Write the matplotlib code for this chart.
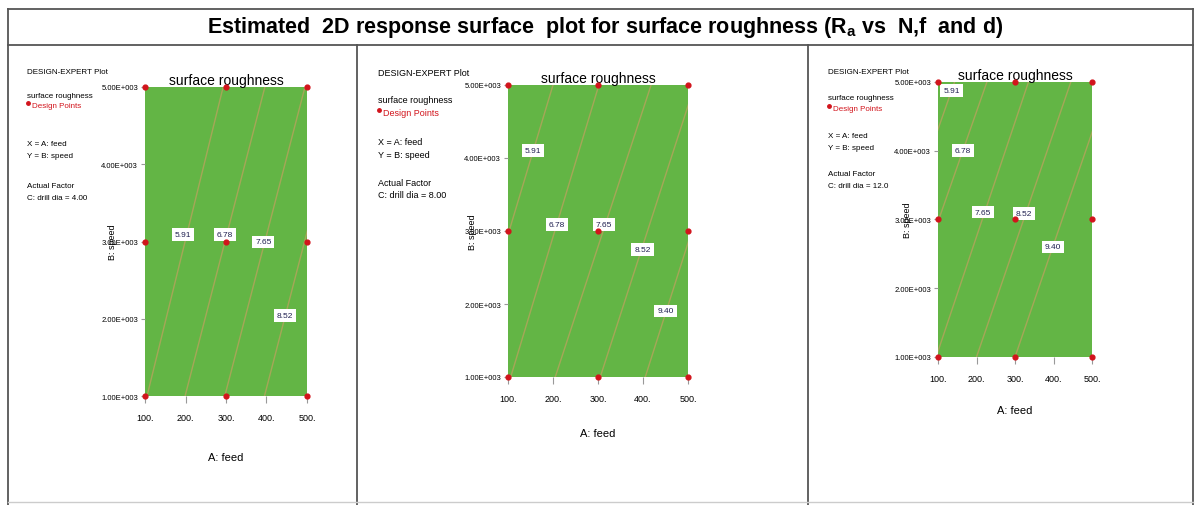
import numpy as np
import matplotlib
matplotlib.use("Agg")
import matplotlib.pyplot as plt
from matplotlib.lines import Line2D

plt.rcParams['font.family'] = ['Liberation Sans Narrow', 'Liberation Sans', 'DejaVu Sans']

W, H = 1195, 506

# contour levels of surface roughness (Ra)
levels = [5.91, 6.78, 7.65, 8.52, 9.40]
drill_dia = ['4.00', '8.00', '12.0']

# design points (3x3 grid)
design_feed = [100, 300, 500]
design_speed = [1000, 3000, 5000]

# contour lines: feed where each level crosses speed=1000 and speed=5000
p1_feed_lo = [105, 199, 297, 395]
p1_feed_hi = [293, 396, 495, 593]
p1_lab_feed = [194, 297, 392, 446]
p1_lab_speed = [3096, 3096, 2994, 2042]

p2_feed_lo = [5, 106, 205, 305, 405]
p2_feed_hi = [200, 302, 418, 515, 612]
p2_lab_feed = [156, 208, 313, 399, 450]
p2_lab_speed = [4099, 3094, 3094, 2751, 1905]

p3_feed_lo = [-107, -23, 95, 200, 300]
p3_feed_hi = [143, 227, 335, 445, 545]
p3_lab_feed = [135, 165, 217, 324, 398]
p3_lab_speed = [4879, 4006, 3109, 3085, 2600]

x_ticks = [100, 200, 300, 400, 500]
y_ticks = [1000, 2000, 3000, 4000, 5000]

GREEN = '#63b545'
LINE = '#c2a060'
RED = '#d2141c'


def fx(x):
    return x / W


def fy(y):
    return 1 - y / H


def rect(x0, y0, x1, y1):
    return [x0 / W, 1 - y1 / H, (x1 - x0) / W, (y1 - y0) / H]


fig = plt.figure(figsize=(W / 100, H / 100), dpi=100)

# frame lines
def fline(xs, ys, c='#555555', lw=1.3):
    fig.add_artist(Line2D([fx(x) for x in xs], [fy(y) for y in ys],
                          color=c, lw=lw, transform=fig.transFigure))

fline([8, 8], [10, 506])
fline([8, 1193], [10, 10])
fline([1193, 1193], [10, 506])
fline([8, 1193], [46, 46])
fline([357, 357], [46, 506])
fline([808, 808], [46, 506])
fline([8, 1193], [503, 503], c='#cccccc', lw=1)

fig.text(fx(605), fy(28),
         r'Estimated  2D response surface  plot for surface roughness (R$_\mathregular{a}$ vs  N,f  and d)',
         ha='center', va='center', fontsize=15.5, fontweight='bold')

panels = [
    dict(box=(145, 88, 307, 397), lo=p1_feed_lo, hi=p1_feed_hi,
         lf=p1_lab_feed, ls=p1_lab_speed, tx=27,
         ty=[73, 97, 107, 145, 157, 187, 199], fs=5.8, xlab_y=458),
    dict(box=(508, 86, 688, 378), lo=p2_feed_lo, hi=p2_feed_hi,
         lf=p2_lab_feed, ls=p2_lab_speed, tx=378,
         ty=[73, 101, 114, 143, 155, 183, 196], fs=6.5, xlab_y=434),
    dict(box=(938, 83, 1092, 358), lo=p3_feed_lo, hi=p3_feed_hi,
         lf=p3_lab_feed, ls=p3_lab_speed, tx=828,
         ty=[72, 98, 110, 136, 148, 174, 186], fs=5.8, xlab_y=411),
]

for i, p in enumerate(panels):
    x0, y0, x1, y1 = p['box']
    ax = fig.add_axes(rect(x0, y0, x1, y1))
    ax.set_facecolor(GREEN)
    ax.set_xlim(100, 500)
    ax.set_ylim(1000, 5000)
    for s in ax.spines.values():
        s.set_visible(False)

    # contour lines and their value labels
    n = len(p['lo'])
    for k in range(n):
        ax.plot([p['lo'][k], p['hi'][k]], [1000, 5000], color=LINE, lw=1.0, alpha=0.7)
        ax.text(p['lf'][k], p['ls'][k], f'{levels[k]:.2f}', ha='center', va='center',
                fontsize=6, color='#202050',
                bbox=dict(boxstyle='square,pad=0.35', fc='white', ec='none'))

    gx, gy = np.meshgrid(design_feed, design_speed)
    ax.scatter(gx.ravel(), gy.ravel(), s=12, color=RED, zorder=5, clip_on=False)

    ax.set_xticks(x_ticks)
    ax.set_xticklabels([f'{v}.' for v in x_ticks])
    ax.set_yticks(y_ticks)
    ax.set_yticklabels([f'{v / 1000:.2f}E+003' for v in y_ticks])
    ax.tick_params(axis='x', length=5, color='#999999', labelsize=6.5, pad=7)
    ax.tick_params(axis='y', length=3, color='#999999', labelsize=5.5, pad=2)

    ax.set_title('surface roughness', fontsize=10, pad=2)
    ax.set_ylabel('B: speed', fontsize=6.5)
    ax.yaxis.set_label_coords(-0.17, 0.5)

    fig.text(fx((x0 + x1) / 2), fy(p['xlab_y']), 'A: feed', ha='center', va='center',
             fontsize=8)

    # legend / info block on the left
    tx, ty, fs = p['tx'], p['ty'], p['fs']
    fig.text(fx(tx), fy(ty[0]), 'DESIGN-EXPERT Plot', fontsize=fs, va='center')
    fig.text(fx(tx), fy(ty[1]), 'surface roughness', fontsize=fs, va='center')
    fig.text(fx(tx + 5), fy(ty[2]), 'Design Points', fontsize=fs, va='center', color=RED)
    fig.add_artist(Line2D([fx(tx + 1)], [fy(ty[2] - 3)], marker='o', ms=2.5, color=RED,
                          transform=fig.transFigure))
    fig.text(fx(tx), fy(ty[3]), 'X = A: feed', fontsize=fs, va='center')
    fig.text(fx(tx), fy(ty[4]), 'Y = B: speed', fontsize=fs, va='center')
    fig.text(fx(tx), fy(ty[5]), 'Actual Factor', fontsize=fs, va='center')
    fig.text(fx(tx), fy(ty[6]), f'C: drill dia = {drill_dia[i]}', fontsize=fs, va='center')

fig.savefig('out.png', dpi=100)
